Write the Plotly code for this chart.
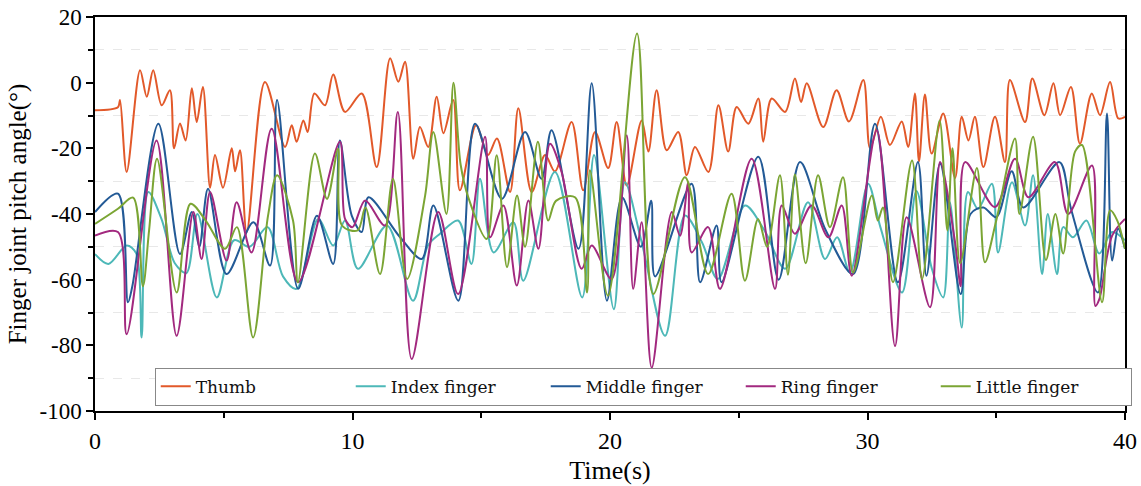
import plotly.graph_objects as go

thumb_t = [0.00, 0.89, 0.97, 1.23, 1.75, 2.01, 2.26, 2.59, 2.91, 3.07, 3.30, 3.52, 3.76, 3.95, 4.19, 4.47, 4.66, 4.97, 5.31, 5.44, 5.63, 5.89, 6.60, 7.38, 7.64, 7.83, 8.09, 8.26, 8.52, 8.93, 9.25, 9.71, 10.36, 10.94, 11.46, 11.78, 12.04, 12.36, 12.62, 12.94, 13.27, 13.53, 13.91, 14.17, 14.80, 15.26, 15.61, 16.12, 16.44, 16.96, 17.48, 17.86, 18.51, 18.96, 19.42, 19.93, 20.26, 20.65, 21.23, 21.49, 21.81, 22.20, 22.65, 22.98, 23.30, 23.82, 24.21, 24.59, 24.92, 25.37, 25.76, 25.95, 26.28, 26.80, 27.18, 27.42, 27.64, 28.28, 28.80, 29.28, 29.84, 30.10, 30.52, 30.87, 31.33, 31.58, 31.84, 32.00, 32.23, 32.49, 32.94, 33.40, 33.66, 33.92, 34.17, 34.50, 34.95, 35.34, 35.53, 36.12, 36.40, 36.87, 37.22, 37.48, 37.90, 38.25, 38.71, 39.03, 39.42, 39.74, 40.00]
thumb_v = [-8.4, -7.5, -5.3, -27.2, 3.8, -4.3, 3.8, -6.9, -2.3, -20, -12.4, -17.6, -1.7, -12, -1.3, -32, -22, -32, -20, -27, -20.6, -45.5, 0.2, -19.6, -13, -18, -11.5, -15, -3.3, -6.9, 2.5, -8.9, -3.3, -25.7, 7.4, 0.3, 6.4, -23.2, -13.5, -19.6, -4.3, -15.4, -5.3, -32.8, -13, -22, -17, -33.3, -7.8, -33.3, -22, -27, -12, -32.8, -15, -26, -12, -31.3, -11.5, -21, -2.3, -20.6, -15, -28.2, -19.6, -27.2, -6.9, -21, -7.4, -12.5, -4.8, -18, -4.8, -8.9, 1.3, -5.9, -0.2, -13.5, -2.3, -11.8, 0.8, -20, -10.4, -19, -11.8, -19.6, -3.3, -24, -3.6, -21.6, -9.4, -29, -10.4, -17.6, -10.4, -25.7, -10.4, -24.2, 0.8, -12, 1.3, -9.9, -0.2, -9.9, -1.3, -18.6, -3.3, -9.9, 0.2, -10.9, -10.4]

index_t = [0.00, 0.52, 1.23, 1.60, 1.81, 2.07, 2.58, 3.10, 3.55, 3.98, 4.73, 5.40, 6.00, 6.70, 7.30, 7.83, 8.67, 9.25, 9.71, 10.21, 11.34, 12.35, 12.93, 13.40, 14.10, 14.62, 14.95, 15.48, 16.25, 16.63, 17.86, 18.92, 19.38, 20.15, 20.58, 21.23, 22.14, 22.91, 23.57, 24.19, 25.24, 26.00, 26.80, 27.69, 28.35, 28.82, 29.32, 30.02, 30.50, 31.34, 31.90, 32.50, 32.94, 33.20, 33.66, 33.90, 34.29, 34.83, 35.07, 35.61, 36.12, 36.43, 36.78, 37.00, 37.36, 37.60, 37.98, 38.50, 39.00, 39.50, 40.00]
index_v = [-52.2, -55.2, -49.6, -52, -77.6, -33.3, -41.5, -55, -58, -40, -65.4, -48, -50, -44, -59, -62.8, -41.5, -49.6, -42, -56.7, -43.5, -66.4, -49.6, -46, -42, -55.2, -29.3, -51.7, -42.5, -60.3, -27.2, -65.4, -22, -69, -30.3, -48.6, -77.1, -40.5, -48.6, -59.8, -37.4, -45, -56.7, -36.4, -53.7, -47.1, -57.8, -30.8, -44, -63.9, -33, -56.7, -65.4, -36.4, -74.6, -33.3, -38.4, -30.8, -51.7, -30.3, -43.5, -28.2, -58.3, -40, -58.3, -44, -47.1, -42, -52, -45.5, -48]

middle_t = [0.00, 0.89, 1.28, 1.45, 2.46, 3.30, 3.76, 4.05, 4.39, 5.11, 6.15, 6.80, 7.07, 7.89, 8.62, 9.25, 9.51, 9.97, 10.36, 10.62, 11.84, 12.69, 13.14, 14.11, 14.76, 15.80, 16.70, 17.34, 17.73, 18.78, 19.29, 19.88, 20.47, 21.20, 21.60, 21.75, 23.17, 23.50, 24.14, 24.33, 25.76, 26.55, 27.38, 28.35, 29.44, 30.29, 31.18, 31.96, 32.29, 32.82, 33.62, 34.00, 34.50, 35.00, 35.60, 36.05, 37.45, 37.90, 38.95, 39.30, 39.50, 39.73, 40.00]
middle_v = [-39.4, -33.8, -66.9, -62, -12.5, -52.2, -39.4, -50, -32.3, -58.3, -42.5, -55.7, -5.3, -62.8, -40.5, -55.2, -17.6, -40.5, -45.5, -34.9, -47, -53.7, -37.4, -66.4, -12.5, -35.4, -15, -29.3, -14.5, -50.6, -0.2, -66.4, -35, -50, -36, -59, -30.8, -60.8, -43.5, -60.8, -22.6, -60, -24.2, -44.5, -58.3, -12.5, -60.8, -24.2, -58.8, -24.7, -64.4, -40, -38, -41, -27, -38, -24.2, -38.3, -63.9, -9.4, -54.2, -44.5, -50.6]

ring_t = [0.00, 0.89, 1.23, 2.39, 3.17, 3.82, 4.14, 4.47, 5.11, 5.50, 6.08, 6.86, 7.89, 9.51, 9.71, 10.00, 10.49, 11.26, 11.76, 12.30, 13.33, 14.10, 15.15, 15.34, 15.86, 16.38, 16.83, 17.22, 17.67, 18.12, 18.90, 19.29, 20.06, 20.65, 20.90, 21.23, 21.62, 22.40, 22.72, 23.04, 23.17, 23.81, 24.27, 25.50, 26.41, 26.67, 27.18, 27.83, 28.48, 29.00, 29.39, 30.36, 31.07, 31.52, 32.43, 32.82, 33.40, 33.62, 33.79, 34.95, 35.73, 36.25, 37.28, 37.79, 38.72, 38.85, 39.00, 39.50, 40.00]
ring_v = [-46.6, -45.5, -76.6, -17.6, -77.1, -39.4, -53.7, -33.3, -54.2, -36.4, -51.7, -14, -60.8, -18, -41.5, -44, -35.9, -43.5, -8.9, -84.2, -39.4, -64.4, -16.5, -47.1, -37.4, -61.8, -35.9, -50.6, -18.6, -27.2, -56.7, -49.6, -59.8, -16, -62.8, -42.5, -86.8, -39.4, -46.6, -30.3, -51.7, -44, -62.8, -23.2, -62.8, -37.4, -46, -37.4, -47.1, -37.4, -58.8, -14.5, -80.2, -41, -68.4, -24.2, -48.6, -62, -24.2, -37.9, -23.2, -34.9, -24.2, -40, -25.2, -68, -66, -46.6, -41.5]

little_t = [0.00, 0.89, 1.48, 1.86, 2.10, 2.41, 3.17, 3.71, 4.30, 5.05, 5.51, 6.14, 6.72, 7.07, 7.69, 7.88, 8.54, 9.01, 9.44, 9.59, 10.20, 10.50, 11.07, 11.57, 12.12, 12.82, 13.14, 13.65, 13.92, 14.20, 14.50, 15.21, 15.60, 16.00, 16.39, 16.70, 17.20, 17.60, 17.90, 18.64, 19.11, 19.22, 19.92, 21.05, 21.68, 22.91, 23.81, 24.72, 25.24, 25.75, 26.10, 26.60, 26.91, 27.18, 27.60, 28.08, 28.54, 29.05, 29.44, 30.17, 30.40, 30.60, 30.99, 31.73, 32.12, 32.80, 33.10, 33.30, 33.60, 34.25, 34.56, 35.00, 35.73, 35.90, 36.43, 36.93, 37.30, 37.60, 38.06, 38.33, 39.11, 39.42, 39.70, 40.00]
little_v = [-43, -38.4, -35, -62, -45, -23.2, -63.9, -36.9, -42, -50.6, -44, -77.6, -40.5, -28.2, -42, -60.8, -21.6, -35.4, -20.1, -43.5, -45, -38, -58.3, -29.3, -59.8, -34.4, -15, -40, 0, -25, -35, -47.6, -22.1, -56.2, -34.4, -50, -18, -42, -36, -34.9, -63.9, -26.7, -64.9, 15, -64.4, -28.8, -58.3, -33.8, -60.3, -41.5, -50, -28.2, -58.5, -28, -55, -28.2, -44, -28.8, -57.8, -34.4, -42, -38, -60.8, -23.7, -59.8, -11.5, -45, -20, -55, -26, -54.7, -42, -17, -40, -16.5, -54, -40, -52, -21, -19, -66.9, -38.9, -42, -50.6]

x_ticks = [0, 10, 20, 30, 40]
y_ticks = [-100, -80, -60, -40, -20, 0, 20]

series = [
    ("Thumb", thumb_t, thumb_v, "#E2592A"),
    ("Index finger", index_t, index_v, "#4DB8B8"),
    ("Middle finger", middle_t, middle_v, "#235A96"),
    ("Ring finger", ring_t, ring_v, "#A2297F"),
    ("Little finger", little_t, little_v, "#7BA534"),
]

fig = go.Figure()
for name, t, v, c in series:
    fig.add_trace(go.Scatter(x=t, y=v, name=name, mode="lines",
                             line=dict(color=c, width=2, shape="spline", smoothing=0.9)))

serif = "Liberation Serif, Times New Roman, serif"
fig.update_layout(
    width=1141, height=486,
    margin=dict(l=95, r=16, t=17, b=75, autoexpand=False),
    plot_bgcolor="white", paper_bgcolor="white",
    font=dict(family=serif, color="black", size=23),
    legend=dict(orientation="h", x=0.058, y=0.11, xanchor="left", yanchor="top",
                bgcolor="white", bordercolor="#888888", borderwidth=1,
                font=dict(family="DejaVu Serif, serif", size=17, color="#111"),
                entrywidth=150, entrywidthmode="pixels", itemwidth=30,
                tracegroupgap=0),
)
fig.update_xaxes(range=[0, 40], tickvals=x_ticks, ticktext=[str(v) for v in x_ticks],
                 ticks="outside", ticklen=7, ticklabeloverflow="allow",
                 tickwidth=1.5, tickcolor="black", showline=True, linecolor="black", linewidth=1.5,
                 mirror=True, showgrid=False, zeroline=False, automargin=False,
                 minor=dict(tickvals=[5, 15, 25, 35], ticks="outside", ticklen=5, tickcolor="black", showgrid=False),
                 title=dict(text="Time(s)", standoff=8, font=dict(size=26)), tickfont=dict(size=24))
fig.update_yaxes(range=[-100, 20], tickvals=y_ticks, ticktext=[str(v) for v in y_ticks],
                 ticks="outside", ticklen=7, ticklabeloverflow="allow",
                 tickwidth=1.5, tickcolor="black", showline=True, linecolor="black", linewidth=1.5,
                 mirror=True, showgrid=False, zeroline=False, automargin=False,
                 minor=dict(tickvals=[-90, -70, -50, -30, -10, 10], ticks="outside", ticklen=5, tickcolor="black",
                            showgrid=True, gridcolor="#e8e8e8", griddash="dash", gridwidth=1),
                 title=dict(text="Finger joint pitch angle(°)", standoff=6, font=dict(size=25)), tickfont=dict(size=23))

fig.write_html("out.html", config={"displayModeBar": False},
               post_script="document.body.style.margin='0';document.body.style.overflow='hidden';")
